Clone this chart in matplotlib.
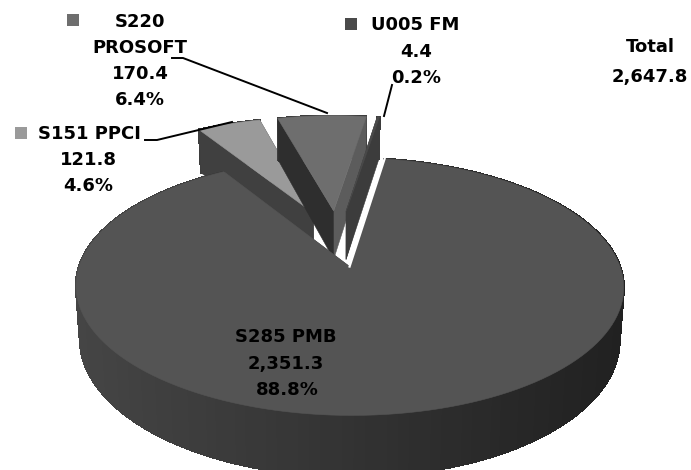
#!/usr/bin/env python3

import numpy as np
import matplotlib
matplotlib.use('Agg')
import matplotlib.pyplot as plt
from matplotlib.patches import Polygon, Rectangle

# Data, drawn clockwise
programs = ['S285 PMB', 'S151 PPCI', 'S220 PROSOFT', 'U005 FM']
amounts = [2351.3, 121.8, 170.4, 4.4]
shares = ['88.8%', '4.6%', '6.4%', '0.2%']
total_amount = '2,647.8'

top_colors = ['#545454', '#9a9a9a', '#6e6e6e', '#4a4a4a']
start_deg = 9.0
explode = 0.24

# Fake 3D projection, in picture pixels
x0, y0 = 337, 238
rx, ry = 261, 117
persp = 0.15
depth = 50


def project(u, v, lower=False):
    u, v = np.asarray(u, float), np.asarray(v, float)
    p = 1 / (1 + persp * v)
    x = x0 + rx * u * p
    y = y0 - ry * v * p
    if lower:
        x = x0 + (x - x0) * 0.985
        y = y + depth * p
    return np.column_stack([x, y])


fig = plt.figure(figsize=(6.91, 4.70), dpi=100)
ax = fig.add_axes([0, 0, 1, 1])
ax.set_xlim(0, 691)
ax.set_ylim(470, 0)
ax.axis('off')

plt.rcParams['font.family'] = ['DejaVu Sans']

# Slice angles come from the amounts
fracs = np.array(amounts) / sum(amounts)
ends = start_deg + np.cumsum(fracs) * 360
starts = ends - fracs * 360

wall_start = ['#3a3a3a', '#404040', '#2e2e2e', '#3c3c3c']
wall_end = ['#404040', '#404040', '#5c5c5c', '#3c3c3c']

# small slices first, the big one goes on top
for z, i in enumerate([1, 2, 3, 0]):
    a0, a1 = np.radians(starts[i]), np.radians(ends[i])
    mid = (a0 + a1) / 2
    cu, cv = explode * np.sin(mid), explode * np.cos(mid)
    t = np.linspace(a0, a1, 160)
    u = cu + np.sin(t)
    v = cv + np.cos(t)
    base = 10 * z

    # outer wall, shaded from left to right
    upper = project(u, v)
    lower = project(u, v, lower=True)
    for j in range(len(t) - 1):
        shade = np.clip((upper[j, 0] - 80) / 540, 0, 1)
        level = 0.27 - 0.14 * shade
        if i != 0:
            level = 0.24
        pts = np.vstack([upper[j:j + 2], lower[j:j + 2][::-1]])
        ax.add_patch(Polygon(pts, closed=True, fc=(level, level, level), ec=(level, level, level),
                             lw=1.0, antialiased=False, zorder=base + 1))

    # radial walls
    centre_top = project([cu], [cv])
    centre_low = project([cu], [cv], lower=True)
    start_wall = np.vstack([centre_top, project(u[:1], v[:1]),
                            project(u[:1], v[:1], lower=True), centre_low])
    end_wall = np.vstack([centre_top, project(u[-1:], v[-1:]),
                          project(u[-1:], v[-1:], lower=True), centre_low])
    ax.add_patch(Polygon(end_wall, closed=True, fc=wall_end[i], ec=wall_end[i],
                         lw=0.4, zorder=base + 2))
    ax.add_patch(Polygon(start_wall, closed=True, fc=wall_start[i], ec=wall_start[i],
                         lw=0.4, zorder=base + 3))

    # top face
    face = np.vstack([centre_top, upper])
    ax.add_patch(Polygon(face, closed=True, fc=top_colors[i], ec=top_colors[i],
                         lw=0.4, zorder=base + 4))

    # thin white line where the big slice meets the small ones
    if i == 0:
        ax.plot([centre_top[0, 0], upper[0, 0]], [centre_top[0, 1], upper[0, 1]],
                color='white', lw=1.6, zorder=base + 5)

# Leader lines
ax.plot([172, 183, 327], [58, 58, 113], color='black', lw=1.4, zorder=60)
ax.plot([145, 157, 232], [140, 140, 122], color='black', lw=1.4, zorder=60)
ax.plot([392, 384], [85, 116], color='black', lw=1.4, zorder=60)

# Legend keys beside the labels
for (kx, ky), c in zip([(67, 14), (15, 127), (345, 18)], [top_colors[2], top_colors[1], top_colors[3]]):
    ax.add_patch(Rectangle((kx, ky), 12, 12, fc=c, ec='none', zorder=61))

font = dict(ha='center', va='center', fontweight='bold', color='black', fontsize=13, zorder=70)

ax.text(140, 22, 'S220', **font)
ax.text(140, 48, 'PROSOFT', **font)
ax.text(140, 74, f'{amounts[2]:,.1f}', **font)
ax.text(140, 100, shares[2], **font)

ax.text(89, 134, 'S151 PPCI', **font)
ax.text(88, 160, f'{amounts[1]:,.1f}', **font)
ax.text(88, 186, shares[1], **font)

ax.text(415, 25, 'U005 FM', **font)
ax.text(416, 52, f'{amounts[3]:,.1f}', **font)
ax.text(416, 78, shares[3], **font)

ax.text(650, 47, 'Total', **font)
ax.text(650, 77, total_amount, **font)

ax.text(286, 337, 'S285 PMB', **font)
ax.text(286, 364, f'{amounts[0]:,.1f}', **font)
ax.text(287, 390, shares[0], **font)

fig.savefig('out.png', dpi=100)
